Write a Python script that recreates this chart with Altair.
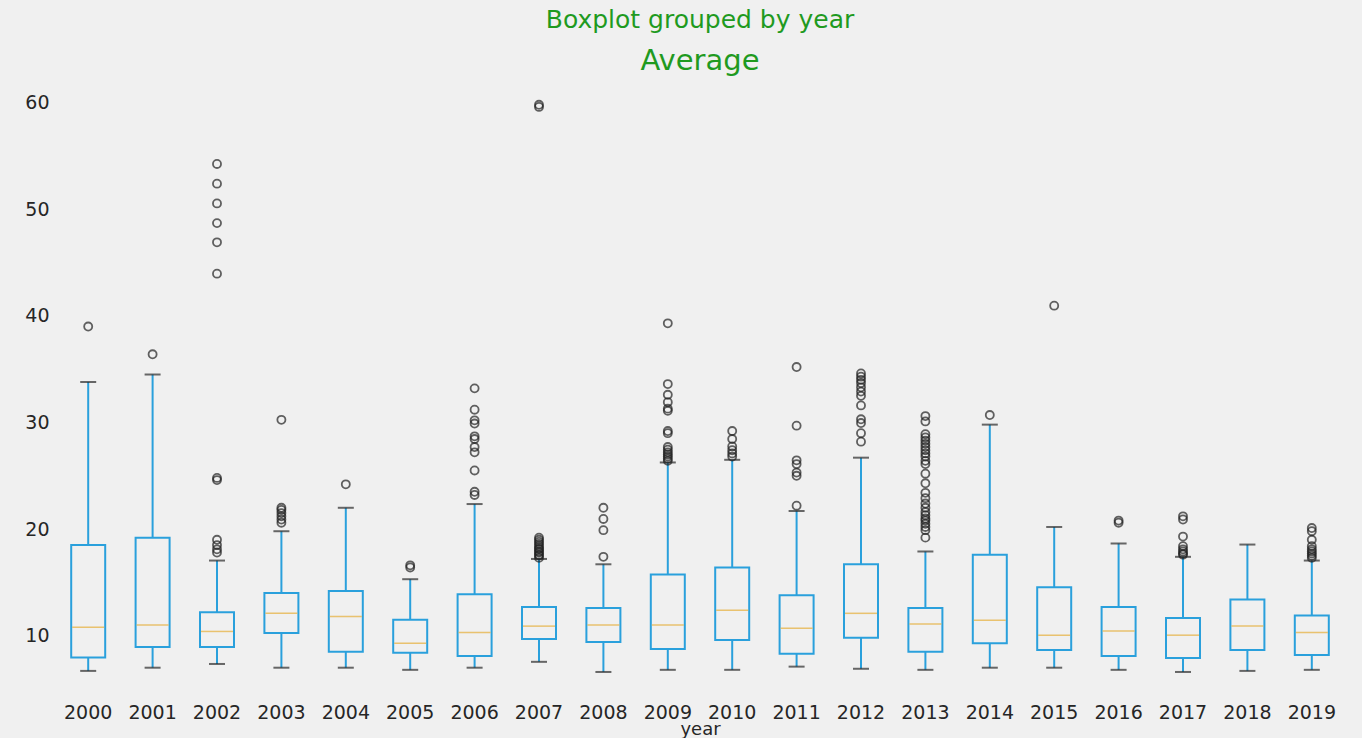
import altair as alt
import pandas as pd

years = [str(y) for y in range(2000, 2020)]
whisker_low = [6.7, 7.0, 7.35, 7.0, 7.0, 6.8, 7.0, 7.55, 6.6, 6.8, 6.8, 7.1, 6.9, 6.8, 7.0, 7.0, 6.8, 6.6, 6.7, 6.8]
q1 = [7.95, 8.95, 8.95, 10.25, 8.5, 8.4, 8.1, 9.7, 9.4, 8.75, 9.6, 8.3, 9.8, 8.5, 9.3, 8.65, 8.1, 7.9, 8.65, 8.2]
medians = [10.8, 11.0, 10.4, 12.1, 11.8, 9.3, 10.3, 10.9, 11.0, 11.0, 12.4, 10.7, 12.1, 11.1, 11.45, 10.05, 10.45, 10.05, 10.9, 10.3]
q3 = [18.5, 19.2, 12.2, 14.0, 14.2, 11.5, 13.9, 12.7, 12.6, 15.75, 16.4, 13.8, 16.7, 12.6, 17.6, 14.55, 12.7, 11.65, 13.4, 11.9]
whisker_high = [33.8, 34.5, 17.05, 19.8, 22.0, 15.3, 22.35, 17.2, 16.7, 26.25, 26.5, 21.7, 26.7, 17.9, 29.8, 20.2, 18.65, 17.4, 18.55, 17.05]

outliers = {
    "2000": [39.0],
    "2001": [36.4],
    "2002": [17.8, 18.1, 18.5, 19.0, 24.6, 24.8, 43.96, 46.9, 48.7, 50.55, 52.4, 54.25],
    "2003": [20.6, 20.9, 21.2, 21.5, 21.8, 22.0, 30.25],
    "2004": [24.2],
    "2005": [16.4, 16.6],
    "2006": [23.2, 23.5, 25.5, 27.2, 27.7, 28.45, 28.7, 29.9, 30.2, 31.2, 33.2],
    "2007": [17.3, 17.5, 17.6, 17.8, 17.9, 18.1, 18.2, 18.4, 18.6, 18.8, 19.0, 19.2, 59.6, 59.8],
    "2008": [17.4, 19.9, 20.95, 22.0],
    "2009": [26.4, 26.6, 26.8, 27.0, 27.2, 27.45, 27.7, 29.0, 29.2, 31.1, 31.3, 31.9, 32.6, 33.6, 39.3],
    "2010": [26.8, 27.1, 27.4, 27.75, 28.45, 29.2],
    "2011": [22.2, 25.0, 25.3, 26.1, 26.45, 29.7, 35.2],
    "2012": [28.2, 29.0, 29.95, 30.3, 31.6, 32.5, 32.9, 33.3, 33.7, 34.0, 34.3, 34.6],
    "2013": [19.2, 19.9, 20.2, 20.5, 20.8, 21.0, 21.3, 21.6, 22.0, 22.4, 22.9, 23.4, 24.3, 25.2,
             26.1, 26.4, 26.8, 27.1, 27.4, 27.7, 28.0, 28.3, 28.6, 28.9, 30.1, 30.6],
    "2014": [30.7],
    "2015": [40.96],
    "2016": [20.6, 20.8],
    "2017": [17.6, 17.7, 17.9, 18.1, 18.4, 19.3, 20.9, 21.2],
    "2018": [],
    "2019": [17.3, 17.5, 17.7, 17.9, 18.1, 18.4, 19.0, 19.8, 20.1],
}

stats = pd.DataFrame({
    "year": years, "low": whisker_low, "q1": q1, "median": medians,
    "q3": q3, "high": whisker_high,
})
out_df = pd.DataFrame(
    [{"year": y, "value": v} for y in years for v in outliers[y]]
)

BLUE = "#2aa0dc"
MED = "#e5ae38"
FONT = "DejaVu Sans"

x_enc = alt.X(
    "year:N",
    sort=years,
    title="year",
    scale=alt.Scale(paddingInner=0, paddingOuter=0),
    axis=alt.Axis(labelAngle=0, domain=False, ticks=False, labelPadding=3,
                  labelFontSize=19, labelColor="#262626", titleFontSize=18,
                  titleFontWeight="normal", titleColor="#262626", titlePadding=-2,
                  labelFont=FONT, titleFont=FONT),
)
y_scale = alt.Scale(domain=[3.97, 62.5], nice=False, zero=False)
y_axis = alt.Axis(values=[10, 20, 30, 40, 50, 60], domain=False, ticks=False, grid=False,
                  labelFontSize=19, labelColor="#262626", labelPadding=7, title=None,
                  labelFont=FONT)

base = alt.Chart(stats).encode(x=x_enc)

whisk_lo = base.mark_rule(color=BLUE, strokeWidth=2).encode(
    y=alt.Y("low:Q", scale=y_scale, axis=y_axis), y2="q1:Q")
whisk_hi = base.mark_rule(color=BLUE, strokeWidth=2).encode(
    y=alt.Y("q3:Q", scale=y_scale), y2="high:Q")
box = base.mark_bar(size=34, fillOpacity=0, stroke=BLUE, strokeWidth=2).encode(
    y=alt.Y("q1:Q", scale=y_scale), y2="q3:Q")
med = base.mark_tick(size=32, thickness=1.5, color=MED, orient="horizontal").encode(
    y=alt.Y("median:Q", scale=y_scale))
cap_lo = base.mark_tick(size=16, thickness=2, color="#2b2b2b", orient="horizontal").encode(
    y=alt.Y("low:Q", scale=y_scale))
cap_hi = base.mark_tick(size=16, thickness=2, color="#2b2b2b", orient="horizontal").encode(
    y=alt.Y("high:Q", scale=y_scale))
pts = alt.Chart(out_df).mark_point(shape="circle", size=65, filled=False,
                                   color="#222222", strokeWidth=1.8).encode(
    x=alt.X("year:N", sort=years), y=alt.Y("value:Q", scale=y_scale))

chart = alt.layer(whisk_lo, whisk_hi, box, med, cap_lo, cap_hi, pts).properties(
    width=1288,
    height=624,
    padding={"left": 56, "top": 76, "right": 18, "bottom": 38},
    autosize=alt.AutoSizeParams(type="none"),
    background="#f0f0f0",
    title=alt.TitleParams(
        text="Boxplot grouped by year",
        subtitle="Average",
        color="#1f9a1f",
        subtitleColor="#1f9a1f",
        fontSize=25,
        subtitleFontSize=29,
        font=FONT,
        subtitleFont=FONT,
        fontWeight="normal",
        anchor="middle",
        offset=0,
        subtitlePadding=14,
    ),
).configure_view(stroke=None)

chart.save("out.html", embed_options={"renderer": "svg", "actions": False})
